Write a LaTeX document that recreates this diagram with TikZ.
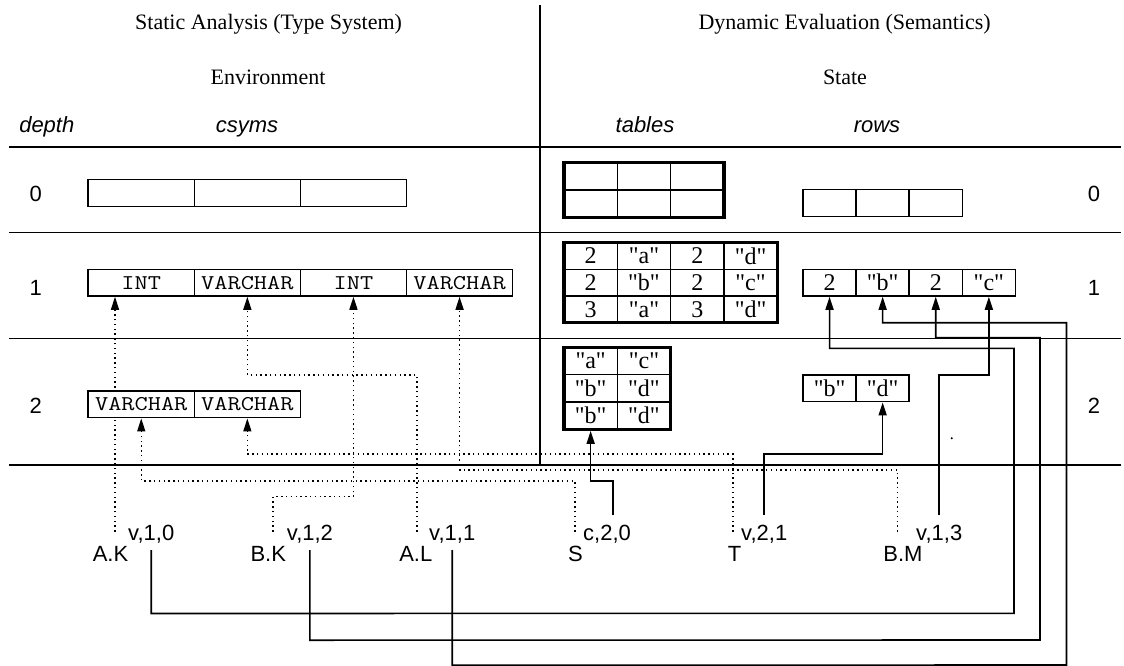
\documentclass[tikz,border=0pt]{standalone}
\usepackage{fontspec}
\usepackage{graphicx}
\setmainfont{Liberation Serif}
\setsansfont{Liberation Sans}
\newfontfamily\tabfont{Liberation Serif}
\usetikzlibrary{arrows.meta}
\pgfdeclarelayer{bg}
\pgfsetlayers{bg,main}
\newcommand{\qq}[1]{\char34 #1\char34}
\newcommand{\cw}[1]{\scalebox{1.22}[1]{#1}}
\begin{document}
\begin{tikzpicture}[x=1pt,y=-1pt,
  ttl/.style={font=\fontsize{22}{26}\selectfont\rmfamily, anchor=base, inner sep=0pt},
  hdr/.style={font=\fontsize{22}{26}\selectfont\sffamily\itshape, anchor=base, inner sep=0pt},
  num/.style={font=\fontsize{22}{26}\selectfont\sffamily, anchor=base, inner sep=0pt},
  sepline/.style={line width=1.2pt},
  csym/.style={draw, fill=white, line width=1.5pt, minimum width=106.1pt, minimum height=26.7pt, inner sep=0pt, font=\fontsize{21}{24}\selectfont\ttfamily},
  cell/.style={draw, fill=white, line width=1.6pt, minimum width=53.3pt, inner sep=0pt, outer sep=0pt, font=\fontsize{24}{26}\selectfont\tabfont},
  rcell/.style={draw, fill=white, line width=1.5pt, minimum width=53.1pt, minimum height=26.7pt, inner sep=0pt, font=\fontsize{24}{26}\selectfont\tabfont},
  tborder/.style={draw, line width=3.2pt},
  varname/.style={font=\fontsize{22}{26}\selectfont\sffamily, anchor=base, text height=15pt, text depth=0pt, inner xsep=0pt, inner ysep=15pt},
  vlabel/.style={font=\fontsize{22}{26}\selectfont\sffamily, anchor=base west, text height=15pt, text depth=0pt, inner xsep=0pt, inner ysep=10pt},
  typeref/.style={line width=1.4pt, dash pattern=on 1.4pt off 3.4pt, -{Triangle[length=13pt,width=8pt]}},
  valref/.style={line width=1.6pt, -{Triangle[length=13pt,width=8pt]}},
]
\useasboundingbox (0,0) rectangle (1124,666);

% headers
\node[ttl] (hs) at (268.6,30) {Static Analysis (Type System)};
\node[ttl] (hd) at (844.6,30) {Dynamic Evaluation (Semantics)};
\node[ttl] (he) at (268,85) {Environment};
\node[ttl] (hst) at (845,85) {State};
\node[hdr] (hdepth) at (46.8,133) {depth};
\node[hdr] (hcsyms) at (247,133) {csyms};
\node[hdr] (htables) at (645,133) {tables};
\node[hdr] (hrows) at (877,133) {rows};

% depth numbers
\node[num] (l0) at (35.7,201.7) {0};
\node[num] (l1) at (35.7,295) {1};
\node[num] (l2) at (35.7,413.3) {2};
\node[num] (rr0) at (1094,201.7) {0};
\node[num] (rr1) at (1094,295) {1};
\node[num] (rr2) at (1094,413.3) {2};

% csyms
\foreach \c in {0,1,2}
  \node[csym, minimum height=27.4pt] (c0\c) at ({88.2+106.1*(\c+0.5)},193) {};
\foreach \v [count=\c from 0] in {INT,VARCHAR,INT,VARCHAR}
  \node[csym] (c1\c) at ({88.2+106.1*(\c+0.5)},282.65) {\cw{\v}};
\foreach \v [count=\c from 0] in {VARCHAR,VARCHAR}
  \node[csym] (c2\c) at ({88.2+106.1*(\c+0.5)},404.35) {\cw{\v}};

% tables
\foreach \r in {0,1}
  \foreach \c in {0,1,2}
    \node[cell, minimum height=27.7pt] (t0-\r-\c) at ({564+53.3*(\c+0.5)},{162.3+27.7*(\r+0.5)}) {};
\foreach \row [count=\r from 0] in {{2,\qq{a},2,\qq{d}},{2,\qq{b},2,\qq{c}},{3,\qq{a},3,\qq{d}}}
  \foreach \v [count=\c from 0] in \row
    \node[cell, minimum height=26.7pt] (t1-\r-\c) at ({564+53.3*(\c+0.5)},{242.7+26.7*(\r+0.5)}) {\v};
\foreach \row [count=\r from 0] in {{\qq{a},\qq{c}},{\qq{b},\qq{d}},{\qq{b},\qq{d}}}
  \foreach \v [count=\c from 0] in \row
    \node[cell, minimum height=27.3pt] (t2-\r-\c) at ({564+53.3*(\c+0.5)},{347.3+27.3*(\r+0.5)}) {\v};
\draw[tborder] (t0-0-0.north west) rectangle (t0-1-2.south east);
\draw[tborder] (t1-0-0.north west) rectangle (t1-2-3.south east);
\draw[tborder] (t2-0-0.north west) rectangle (t2-2-1.south east);

% rows
\foreach \c in {0,1,2}
  \node[rcell, minimum height=27.4pt] (r0\c) at ({803+53.1*(\c+0.5)},203) {};
\foreach \v [count=\c from 0] in {2,\qq{b},2,\qq{c}}
  \node[rcell] (r1\c) at ({803+53.1*(\c+0.5)},282.65) {\v};
\foreach \v [count=\c from 0] in {\qq{b},\qq{d}}
  \node[rcell] (r2\c) at ({803+53.1*(\c+0.5)},388.35) {\v};

% variable labels
\node[varname] (AK) at (110.5,561.7) {A.K};
\node[vlabel] (vAK) at (128,540) {v,1,0};
\node[varname] (BK) at (268.3,561.7) {B.K};
\node[vlabel] (vBK) at (286.7,540) {v,1,2};
\node[varname] (AL) at (415.8,561.7) {A.L};
\node[vlabel] (vAL) at (429,540) {v,1,1};
\node[varname] (S) at (575.5,561.7) {S};
\node[vlabel] (vS) at (583,540) {c,2,0};
\node[varname] (T) at (734.5,561.7) {T};
\node[vlabel] (vT) at (741,540) {v,2,1};
\node[varname] (BM) at (903,561.7) {B.M};
\node[vlabel] (vBM) at (916,540) {v,1,3};

\coordinate (dAK) at ([xshift=4.5pt]AK.north);
\coordinate (dBK) at ([xshift=4.7pt]BK.north);
\coordinate (dAL) at ([xshift=1.2pt]AL.north);
\coordinate (dS) at ([xshift=-0.5pt]S.north);
\coordinate (dT) at ([xshift=-1.5pt]T.north);
\coordinate (dBM) at ([xshift=-5.4pt]BM.north);

\fill (951.7,438.3) circle (1.1pt);

\begin{pgfonlayer}{bg}
  \draw[sepline] (9,147) -- (1121,147);
  \draw[sepline] (9,232.5) -- (1121,232.5);
  \draw[sepline] (9,338.3) -- (1121,338.3);
  \draw[sepline] (9,465) -- (1121,465);
  \draw[sepline] (540,5) -- (540,465);

  % type references (dotted)
  \draw[typeref] (dAK) -- (dAK |- c10.south);
  \draw[typeref] (dBK) -- ++(0,-35) -| (c12.south);
  \draw[typeref] (dAL) -- ++(0,-156.7) -| (c11.south);
  \draw[typeref] (dS) -- ++(0,-50.7) -| (c20.south);
  \draw[typeref] (dT) -- ++(0,-77.4) -| (c21.south);
  \draw[typeref] (dBM) -- ++(0,-61.7) -| (c13.south);

  % value references (solid)
  \draw[valref] (vAK.south) -- ++(0,63.3) -- (1014,613.3) -- (1014,348.3) -| (r10.south);
  \draw[valref] (vBK.south) -- ++(0,90) -- (1040,640) -- (1040,337.7) -| (r12.south);
  \draw[valref] (vAL.south) -- ++(0,115) -- (1066.5,665) -- (1066.5,322.7) -| (r11.south);
  \draw[valref] (vBM.north) -- ++(0,-140) -| (r13.south);
  \draw[valref] (vT.north) -- ++(0,-60.7) -| (r21.south);
  \draw[valref] ([xshift=5.7pt]vS.north) -- ++(0,-34) -| ([yshift=-1.6pt]t2-2-0.south);
\end{pgfonlayer}
\end{tikzpicture}
\end{document}
